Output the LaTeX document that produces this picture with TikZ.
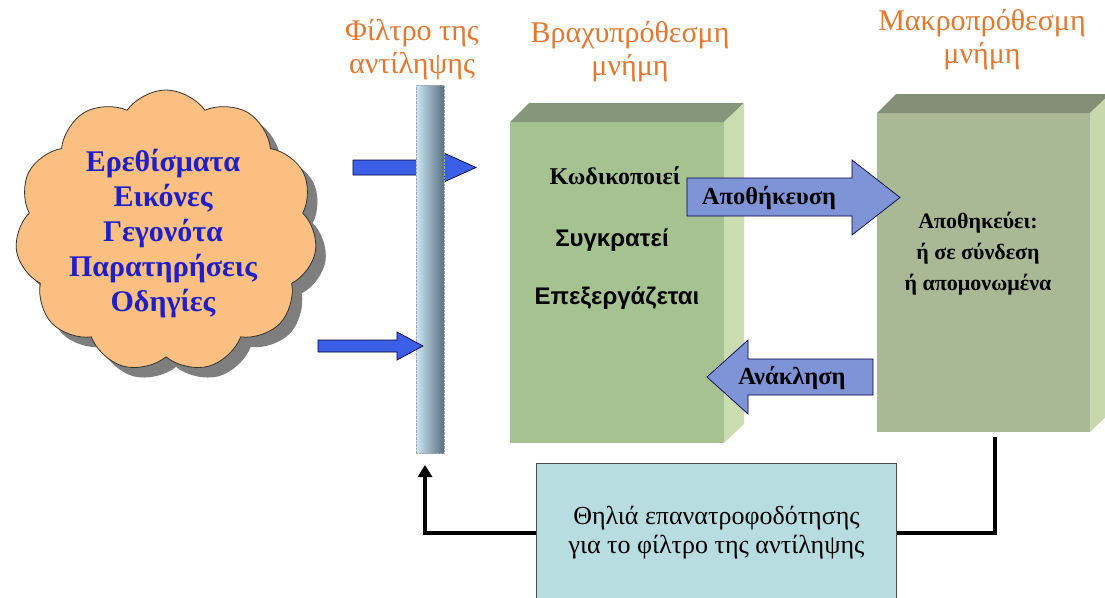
\documentclass[tikz,border=0pt]{standalone}
\usepackage{fontspec}
\setmainfont{Liberation Serif}
\setsansfont{Liberation Sans}
\usetikzlibrary{shapes.symbols,arrows.meta}
\definecolor{cloudfill}{HTML}{FBBF82}
\definecolor{cloudshadowc}{HTML}{7E7E7E}
\definecolor{cloudtext}{HTML}{1F1FC8}
\definecolor{titleorange}{HTML}{E5782E}
\definecolor{stmfront}{HTML}{A6C290}
\definecolor{stmtop}{HTML}{85977A}
\definecolor{stmside}{HTML}{C9DDB0}
\definecolor{ltmfront}{HTML}{AAB995}
\definecolor{ltmtop}{HTML}{838F76}
\definecolor{ltmside}{HTML}{C7D8AD}
\definecolor{blockarrow}{HTML}{7F94D6}
\definecolor{bluearrow}{HTML}{3B5FE6}
\definecolor{fbfill}{HTML}{B8DDE1}
\definecolor{barlight}{HTML}{CDE7F6}
\definecolor{bardark}{HTML}{587180}
\tikzset{
  cloudbase/.style={cloud, cloud puffs=11, cloud puff arc=110, cloud ignores aspect,
    minimum width=302pt, minimum height=282pt, inner sep=0pt},
  cloudmain/.style={cloudbase, fill=cloudfill, draw=black!80, line width=0.8pt},
  cloudshade/.style={cloudbase, fill=cloudshadowc, draw=none},
  cloudlabel/.style={align=center, text=cloudtext, font=\fontsize{30}{35}\selectfont\bfseries},
  titlelabel/.style={align=center, text=titleorange, font=\fontsize{30}{33}\selectfont},
  filterbar/.style={rectangle, minimum width=28pt, minimum height=368pt, inner sep=0pt, outer sep=0pt,
    left color=barlight, right color=bardark, draw=gray!70, densely dotted, line width=0.4pt},
  bluearr/.style={fill=bluearrow, draw=black!75!blue, line width=0.7pt},
  blockarr/.style={fill=blockarrow, draw=black!70!blue, line width=0.7pt},
  stmface/.style={rectangle, minimum width=214pt, minimum height=321pt, inner sep=0pt, outer sep=0pt, fill=stmfront},
  ltmface/.style={rectangle, minimum width=213pt, minimum height=319pt, inner sep=0pt, outer sep=0pt, fill=ltmfront},
  serifbold/.style={font=\fontsize{24}{28}\selectfont\bfseries},
  sansbold/.style={font=\fontsize{24}{28}\selectfont\sffamily\bfseries},
  arrlabel/.style={font=\fontsize{24.5}{28}\selectfont\bfseries},
  ltmlabel/.style={align=center, font=\fontsize{22}{31}\selectfont\bfseries},
  fbbox/.style={rectangle, minimum width=360pt, minimum height=140pt, inner sep=0pt, fill=fbfill,
    draw=black!70, line width=0.6pt, align=center, font=\fontsize{26}{29}\selectfont},
  fbline/.style={line width=4pt, black}
}
\begin{document}
\begin{tikzpicture}[x=1pt,y=-1pt]
\useasboundingbox (0,0) rectangle (1105,597);
\fill[white] (0,0) rectangle (1105,597);
% cloud
\node[cloudshade] (cloudsh) at (176,241) {};
\node[cloudmain] (cloud) at (166,231) {};
\node[cloudlabel] (cloudtxt) at (163,234) {Ερεθίσματα\\Εικόνες\\Γεγονότα\\Παρατηρήσεις\\Οδηγίες};
% titles
\node[titlelabel] (t1) at (412,50) {Φίλτρο της\\αντίληψης};
\node[titlelabel] (t2) at (630,52) {Βραχυπρόθεσμη\\μνήμη};
\node[titlelabel] (t3) at (982,40) {Μακροπρόθεσμη\\μνήμη};
% upper input arrow (behind the filter)
\draw[bluearr] (353,160) -- (444,160) -- (444,153) -- (476,167.5) -- (444,182) -- (444,175) -- (353,175) -- cycle;
% filter bar
\node[filterbar] (bar) at (430,269) {};
% lower input arrow
\draw[bluearr] (318,340) -- (397,340) -- (397,332) -- (423,346) -- (397,360) -- (397,352) -- (318,352) -- cycle;
% short-term memory box
\node[stmface] (stm) at (617,282.5) {};
\fill[stmtop] (stm.north west) -- ([shift={(19,-19)}]stm.north west) -- ([shift={(20,-19)}]stm.north east) -- (stm.north east) -- cycle;
\fill[stmside] (stm.north east) -- ([shift={(20,-19)}]stm.north east) -- ([shift={(20,-19)}]stm.south east) -- (stm.south east) -- cycle;
\node[serifbold] (s1) at (615,176) {Κωδικοποιεί};
\node[sansbold] (s2) at (612,240) {Συγκρατεί};
\node[sansbold] (s3) at (617,298) {Επεξεργάζεται};
% long-term memory box
\node[ltmface] (ltm) at (983.5,272.5) {};
\fill[ltmtop] (ltm.north west) -- ([shift={(19,-19)}]ltm.north west) -- ([shift={(20,-19)}]ltm.north east) -- (ltm.north east) -- cycle;
\fill[ltmside] (ltm.north east) -- ([shift={(20,-19)}]ltm.north east) -- ([shift={(20,-19)}]ltm.south east) -- (ltm.south east) -- cycle;
\node[ltmlabel] (ltmtxt) at (978,254) {Αποθηκεύει:\\ή σε σύνδεση\\ή απομονωμένα};
% store arrow
\draw[blockarr] (687,178) -- (852,178) -- (852,160) -- (900,197.5) -- (852,235) -- (852,216) -- (687,216) -- cycle;
\node[arrlabel] (store) at (769,198) {Αποθήκευση};
% recall arrow
\draw[blockarr] (873,359) -- (748,359) -- (748,340) -- (707,377) -- (748,414) -- (748,395) -- (873,395) -- cycle;
\node[arrlabel] (recall) at (792,378) {Ανάκληση};
% feedback
\node[fbbox] (fb) at (716.5,533) {Θηλιά επανατροφοδότησης\\για το φίλτρο της αντίληψης};
\coordinate (ltmout) at (995,437);
\coordinate (bartip) at (425,465);
\draw[fbline] (ltmout) |- (fb.east);
\draw[fbline,-{Triangle[length=12pt,width=14pt]}] (fb.west) -| (bartip);
\end{tikzpicture}
\end{document}
